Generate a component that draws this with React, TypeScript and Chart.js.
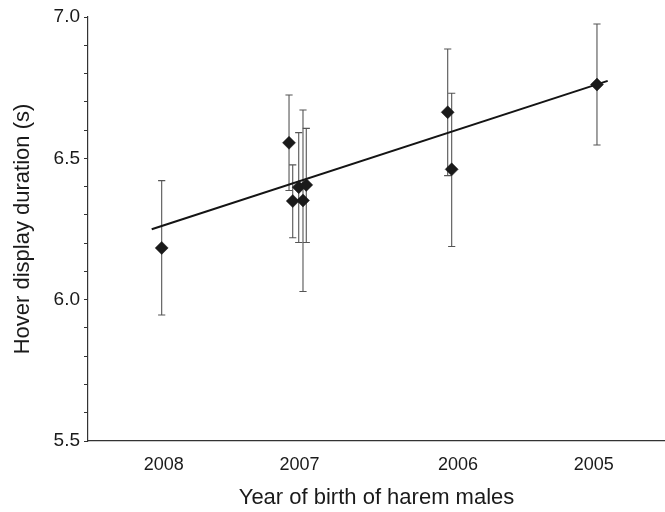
import React, { useEffect, useRef } from "react";
import { Chart, registerables } from "chart.js";

Chart.register(...registerables);

// x positions in an arbitrary continuous unit (axis spans 0..100)
const pointX = [12.77, 34.84, 35.48, 36.52, 37.26, 37.83, 62.34, 63.03, 88.21];
const pointY = [6.183, 6.555, 6.349, 6.398, 6.351, 6.406, 6.663, 6.461, 6.761];
const errLow = [5.946, 6.386, 6.219, 6.202, 6.029, 6.202, 6.439, 6.188, 6.547];
const errHigh = [6.421, 6.724, 6.477, 6.591, 6.671, 6.606, 6.887, 6.730, 6.975];

const fitX = [11.04, 90.07];
const fitY = [6.249, 6.774];

const yearTickPos = [13.12, 36.66, 64.12, 87.64];
const yearLabels = ["2008", "2007", "2006", "2005"];

const FONT = "'Liberation Sans', Arial, sans-serif";

const errorBarPlugin = {
  id: "errorBars",
  beforeDatasetsDraw(chart: any) {
    const { ctx, scales } = chart;
    const xs = scales.x;
    const ys = scales.y;
    ctx.save();
    ctx.strokeStyle = "#555555";
    ctx.lineWidth = 1.1;
    const cap = 3.6;
    for (let i = 0; i < pointX.length; i++) {
      const px = xs.getPixelForValue(pointX[i]);
      const pLow = ys.getPixelForValue(errLow[i]);
      const pHigh = ys.getPixelForValue(errHigh[i]);
      ctx.beginPath();
      ctx.moveTo(px, pLow);
      ctx.lineTo(px, pHigh);
      ctx.moveTo(px - cap, pLow);
      ctx.lineTo(px + cap, pLow);
      ctx.moveTo(px - cap, pHigh);
      ctx.lineTo(px + cap, pHigh);
      ctx.stroke();
    }
    ctx.restore();
  },
};

export default function App() {
  const canvasRef = useRef<HTMLCanvasElement | null>(null);

  useEffect(() => {
    if (!canvasRef.current) return;
    const chart = new Chart(canvasRef.current, {
      type: "scatter",
      data: {
        datasets: [
          {
            type: "scatter",
            data: pointX.map((x, i) => ({ x, y: pointY[i] })),
            pointStyle: "rectRot",
            pointRadius: 6.5,
            pointBackgroundColor: "#1a1a1a",
            pointBorderColor: "#1a1a1a",
            pointBorderWidth: 0.5,
            clip: false,
          } as any,
          {
            type: "line",
            data: fitX.map((x, i) => ({ x, y: fitY[i] })),
            borderColor: "#141414",
            borderWidth: 2,
            pointRadius: 0,
            fill: false,
          } as any,
        ],
      },
      options: {
        animation: false,
        responsive: true,
        maintainAspectRatio: false,
        layout: { autoPadding: false, padding: { left: 0, top: 17, right: 0, bottom: 0 } },
        plugins: {
          legend: { display: false },
          tooltip: { enabled: false },
        },
        scales: {
          x: {
            type: "linear",
            min: 0,
            max: 100,
            afterFit: (scale: any) => {
              scale.height = 71;
              scale.paddingLeft = 0;
              scale.paddingRight = 0;
            },
            afterBuildTicks: (scale: any) => {
              scale.ticks = yearTickPos.map((v) => ({ value: v }));
            },
            grid: { display: true, drawOnChartArea: false, drawTicks: false },
            border: { display: true, color: "#333333", width: 1.2 },
            ticks: {
              padding: 13,
              color: "#1a1a1a",
              font: { family: FONT, size: 18 },
              maxRotation: 0,
              autoSkip: false,
              callback: (_v: any, i: number) => yearLabels[i],
            },
            title: {
              display: true,
              text: "Year of birth of harem males",
              color: "#1a1a1a",
              font: { family: FONT, size: 22 },
              padding: { top: 0, bottom: 1 },
            },
          },
          y: {
            type: "linear",
            min: 5.5,
            max: 7.0,
            afterFit: (scale: any) => {
              scale.width = 88;
            },
            grid: {
              display: true,
              drawOnChartArea: false,
              drawTicks: true,
              tickLength: 4,
              tickColor: "#333333",
              tickWidth: 1,
            },
            border: { display: true, color: "#333333", width: 1.2 },
            ticks: {
              stepSize: 0.1,
              padding: 4,
              color: "#1a1a1a",
              font: { family: FONT, size: 19 },
              autoSkip: false,
              callback: (v: any) => {
                const n = Number(v);
                return Math.abs(n * 2 - Math.round(n * 2)) < 1e-6 ? n.toFixed(1) : "";
              },
            },
            title: {
              display: true,
              text: "Hover display duration (s)",
              color: "#1a1a1a",
              font: { family: FONT, size: 22 },
              padding: { top: 10, bottom: 0 },
            },
          },
        },
      },
      plugins: [errorBarPlugin],
    } as any);
    return () => chart.destroy();
  }, []);

  return (
    <div style={{ position: "fixed", left: 0, top: 0, width: 665, height: 512, background: "#fff" }}>
      <canvas ref={canvasRef} />
    </div>
  );
}
